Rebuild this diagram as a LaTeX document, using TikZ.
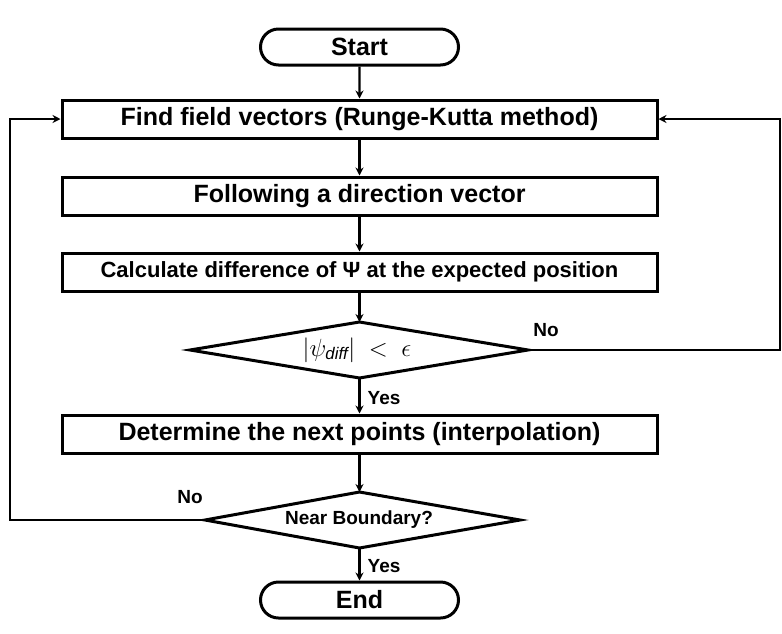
\documentclass[tikz,border=0pt]{standalone}
\usepackage{fontspec}
\setmainfont{Liberation Sans}
\usetikzlibrary{shapes.geometric,shapes.misc,arrows.meta}
\begin{document}
\begin{tikzpicture}[x=1pt,y=-1pt,
  line width=3pt,
  proc/.style={draw,rectangle,minimum width=595pt,minimum height=38pt,inner sep=0pt,font=\bfseries\fontsize{25}{28}\selectfont},
  term/.style={draw,rounded rectangle,minimum width=198pt,minimum height=36pt,inner sep=0pt,font=\bfseries\fontsize{25}{28}\selectfont},
  arr/.style={line width=2.4pt,-{Stealth[length=8pt,width=8pt]}},
  lab/.style={font=\bfseries\fontsize{19}{22}\selectfont}]
\useasboundingbox (0,0) rectangle (782,633);
\node[term] (start) at (359.5,47) {Start};
\node[proc] (b1) at (359.5,119) {Find field vectors (Runge-Kutta method)};
\node[proc] (b2) at (359.5,196) {Following a direction vector};
\node[proc,font=\bfseries\fontsize{22}{25}\selectfont] (b3) at (359.5,272) {Calculate difference of Ψ at the expected position};
\draw (190,350) coordinate (d1w) -- (359.5,322) coordinate (d1n) -- (528,350) coordinate (d1e) -- (359.5,378) coordinate (d1s) -- cycle;
\node (d1) at (357,350) {\fontsize{24}{26}\selectfont $\left|\psi_{\mathit{diff}}\right|\ <\ \epsilon$};
\node[proc] (b4) at (359.5,434) {Determine the next points (interpolation)};
\draw (205,520) coordinate (d2w) -- (359.5,492) coordinate (d2n) -- (520,520) coordinate (d2e) -- (359.5,548) coordinate (d2s) -- cycle;
\node[font=\bfseries\fontsize{19}{22}\selectfont] (d2) at (359,520) {Near Boundary?};
\node[term] (end) at (359.5,600) {End};
\draw[arr] (start) -- (b1);
\draw[arr] (b1) -- (b2);
\draw[arr] (b2) -- (b3);
\draw[arr] (b3) -- (d1n);
\draw[arr] (d1s) -- (b4);
\draw[arr] (b4) -- (d2n);
\draw[arr] (d2s) -- (end);
\coordinate (r1) at (780,350);
\coordinate (r2) at (780,119);
\draw[arr] (d1e) -- (r1) -- (r2) -- (b1.east);
\coordinate (l1) at (10,520);
\coordinate (l2) at (10,119);
\draw[arr] (d2w) -- (l1) -- (l2) -- (b1.west);
\node[lab] (no1) at (546,330) {No};
\node[lab] (yes1) at (384,398) {Yes};
\node[lab] (no2) at (190,497) {No};
\node[lab] (yes2) at (384,566) {Yes};
\end{tikzpicture}
\end{document}
